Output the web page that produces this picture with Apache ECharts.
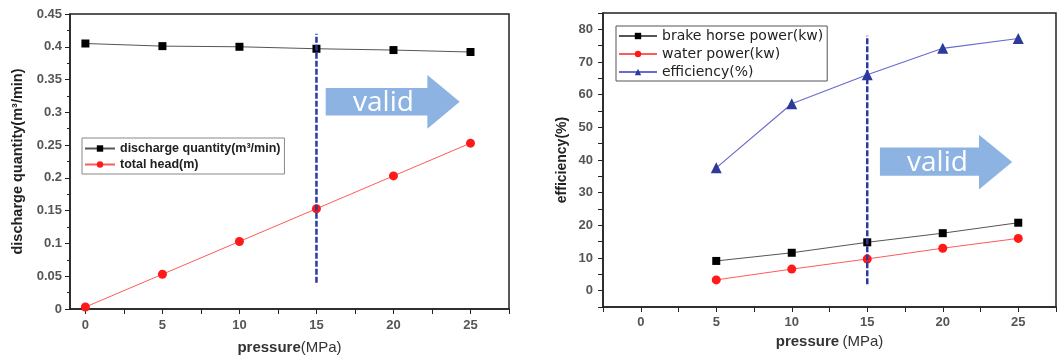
<!DOCTYPE html>
<html>
<head>
<meta charset="utf-8">
<script src="https://cdn.jsdelivr.net/npm/echarts@6/dist/echarts.min.js"></script>
<style>
html,body{margin:0;padding:0;background:#fff;}
#chart{width:1058px;height:360px;}
</style>
</head>
<body>
<div id="chart"></div>
<script>
// ---- data ----
const pressureLeft = [0, 5, 10, 15, 20, 25];
const dischargeQuantity = [0.405, 0.401, 0.400, 0.397, 0.395, 0.392];
const totalHead = [0.003, 0.053, 0.103, 0.153, 0.203, 0.253];

const pressureRight = [5, 10, 15, 20, 25];
const brakeHorsePower = [9.1, 11.6, 14.8, 17.6, 20.8];
const waterPower = [3.3, 6.6, 9.7, 13.0, 16.0];
const efficiency = [37.6, 57.2, 66.1, 74.2, 77.2];

const xTickLabels = [0, 5, 10, 15, 20, 25];
const rightYTickLabels = [0, 10, 20, 30, 40, 50, 60, 70, 80];

const leftValidLine = [[15, 0.04], [15, 0.42]];
const rightValidLine = [[15, 2], [15, 78]];

// ---- helpers ----
function zip(xs, ys) { return xs.map((x, i) => [x, ys[i]]); }
function range(a, b, s) { const r = []; for (let v = a; v <= b + 1e-9; v += s) r.push(+v.toFixed(4)); return r; }

function arrowRenderer(g) {
  return function (params, api) {
    const ym = (g.yHeadTop + g.yHeadBot) / 2;
    const pts = [
      [g.x0, g.yRectTop], [g.x1, g.yRectTop], [g.x1, g.yHeadTop], [g.xt, ym],
      [g.x1, g.yHeadBot], [g.x1, g.yRectBot], [g.x0, g.yRectBot]
    ].map(p => api.coord(p));
    const tc = api.coord([g.xText, ym]);
    return {
      type: 'group',
      children: [
        { type: 'polygon', shape: { points: pts }, style: { fill: '#8DB3E2' } },
        { type: 'text', x: tc[0], y: tc[1] + 1,
          style: { text: 'valid', fill: '#ffffff', fontSize: 28, fontFamily: 'Open Sans',
                   fontWeight: 'normal', align: 'center', verticalAlign: 'middle' } }
      ]
    };
  };
}

const labelStyle = { color: '#555', fontWeight: 'bold', fontSize: 13, fontFamily: 'Liberation Sans, Arial' };
const axisLine = { show: true, onZero: false, lineStyle: { color: '#222', width: 1.5 } };
const nameRich = {
  a: { fontWeight: 'bold', fontSize: 15, color: '#333', fontFamily: 'Liberation Sans, Arial' },
  b: { fontWeight: 'normal', fontSize: 15, color: '#333', fontFamily: 'Liberation Sans, Arial' }
};

const chart = echarts.init(document.getElementById('chart'), null, { renderer: 'canvas' });

chart.setOption({
  animation: false,
  backgroundColor: '#fff',
  grid: [
    { left: 70, top: 14, width: 439, height: 299, show: true, borderColor: '#222', borderWidth: 1.5 },
    { left: 603, top: 13, width: 453, height: 294, show: true, borderColor: '#222', borderWidth: 1.5 }
  ],
  xAxis: [
    {
      gridIndex: 0, type: 'value', min: -1, max: 27.5,
      axisLine: axisLine,
      axisTick: { show: true, inside: false, length: 5, customValues: range(0, 27.5, 2.5), lineStyle: { color: '#222' } },
      axisLabel: { customValues: xTickLabels, margin: 10, ...labelStyle },
      splitLine: { show: false },
      name: '{a|pressure}{b|(MPa)}', nameLocation: 'middle', nameGap: 31,
      nameTextStyle: { rich: nameRich }
    },
    {
      gridIndex: 1, type: 'value', min: -2.5, max: 27.5,
      axisLine: axisLine,
      axisTick: { show: true, inside: false, length: 5, customValues: range(-2.5, 27.5, 2.5), lineStyle: { color: '#222' } },
      axisLabel: { customValues: xTickLabels, margin: 9, ...labelStyle },
      splitLine: { show: false },
      name: '{a|pressure} {b|(MPa)}', nameLocation: 'middle', nameGap: 27,
      nameTextStyle: { rich: nameRich }
    }
  ],
  yAxis: [
    {
      gridIndex: 0, type: 'value', min: 0, max: 0.45, interval: 0.05,
      axisLine: axisLine,
      axisTick: { show: true, inside: false, length: 5, lineStyle: { color: '#222' } },
      minorTick: { show: true, splitNumber: 2, length: 3, lineStyle: { color: '#222' } },
      axisLabel: { margin: 8, ...labelStyle },
      splitLine: { show: false },
      name: 'discharge quantity(m³/min)', nameLocation: 'middle', nameGap: 45, nameRotate: 90,
      nameTextStyle: { fontWeight: 'bold', fontSize: 14.5, color: '#222', fontFamily: 'Liberation Sans, Arial' }
    },
    {
      gridIndex: 1, type: 'value', min: -5, max: 85,
      axisLine: axisLine,
      axisTick: { show: true, inside: false, length: 5, customValues: range(-5, 85, 5), lineStyle: { color: '#222' } },
      axisLabel: { customValues: rightYTickLabels, margin: 10, ...labelStyle },
      splitLine: { show: false },
      name: 'efficiency(%)', nameLocation: 'middle', nameGap: 34, nameRotate: 90,
      nameTextStyle: { fontWeight: 'bold', fontSize: 14, color: '#222', fontFamily: 'Liberation Sans, Arial' }
    }
  ],
  legend: [
    {
      data: ['discharge quantity(m³/min)', 'total head(m)'],
      left: 82, top: 138, orient: 'vertical',
      borderColor: '#888', borderWidth: 1, padding: [4, 4, 3, 2],
      itemWidth: 30, itemHeight: 8, itemGap: 3,
      textStyle: { fontWeight: 'bold', fontSize: 12.5, color: '#222', fontFamily: 'Liberation Sans, Arial' },
      selectedMode: false
    },
    {
      data: ['brake horse power(kw)', 'water power(kw)', 'efficiency(%)'],
      left: 616, top: 26, orient: 'vertical',
      borderColor: '#555', borderWidth: 1, padding: [3, 4, 2, 2],
      itemWidth: 38, itemHeight: 8, itemGap: 4,
      textStyle: { fontWeight: 'normal', fontSize: 14, color: '#222', fontFamily: 'DejaVu Sans' },
      selectedMode: false
    }
  ],
  series: [
    {
      name: 'valid-arrow-left', type: 'custom', xAxisIndex: 0, yAxisIndex: 0, data: [[0, 0]], silent: true, z: 1,
      renderItem: arrowRenderer({ x0: 15.6, x1: 22.2, xt: 24.3, xText: 19.35,
        yRectTop: 0.337, yRectBot: 0.295, yHeadTop: 0.357, yHeadBot: 0.275 })
    },
    {
      name: 'valid-arrow-right', type: 'custom', xAxisIndex: 1, yAxisIndex: 1, data: [[0, 0]], silent: true, z: 1,
      renderItem: arrowRenderer({ x0: 15.84, x1: 22.4, xt: 24.6, xText: 19.65,
        yRectTop: 43.8, yRectBot: 35.2, yHeadTop: 47.7, yHeadBot: 31.0 })
    },
    {
      name: 'discharge quantity(m³/min)', type: 'line', xAxisIndex: 0, yAxisIndex: 0,
      data: zip(pressureLeft, dischargeQuantity),
      symbol: 'rect', symbolSize: 8,
      lineStyle: { color: '#555', width: 1 }, itemStyle: { color: '#000' }, z: 3
    },
    {
      name: 'total head(m)', type: 'line', xAxisIndex: 0, yAxisIndex: 0,
      data: zip(pressureLeft, totalHead),
      symbol: 'circle', symbolSize: 9,
      lineStyle: { color: '#ff5a5a', width: 1 }, itemStyle: { color: '#ff1a1a' }, z: 3
    },
    {
      name: 'valid-line-left', type: 'line', xAxisIndex: 0, yAxisIndex: 0,
      data: leftValidLine, symbol: 'none', silent: true,
      lineStyle: { color: '#2B3A9E', width: 2.5, type: [6, 2] }, z: 5
    },
    {
      name: 'brake horse power(kw)', type: 'line', xAxisIndex: 1, yAxisIndex: 1,
      data: zip(pressureRight, brakeHorsePower),
      symbol: 'rect', symbolSize: 8,
      lineStyle: { color: '#555', width: 1 }, itemStyle: { color: '#000' }, z: 3
    },
    {
      name: 'water power(kw)', type: 'line', xAxisIndex: 1, yAxisIndex: 1,
      data: zip(pressureRight, waterPower),
      symbol: 'circle', symbolSize: 9,
      lineStyle: { color: '#ff5a5a', width: 1 }, itemStyle: { color: '#ff1a1a' }, z: 3
    },
    {
      name: 'efficiency(%)', type: 'line', xAxisIndex: 1, yAxisIndex: 1,
      data: zip(pressureRight, efficiency),
      symbol: 'triangle', symbolSize: 11,
      lineStyle: { color: '#6a6ad0', width: 1.2 }, itemStyle: { color: '#2D3A9A' }, z: 3
    },
    {
      name: 'valid-line-right', type: 'line', xAxisIndex: 1, yAxisIndex: 1,
      data: rightValidLine, symbol: 'none', silent: true,
      lineStyle: { color: '#2B3A9E', width: 2.5, type: [6, 2] }, z: 5
    }
  ]
});
</script>
</body>
</html>
